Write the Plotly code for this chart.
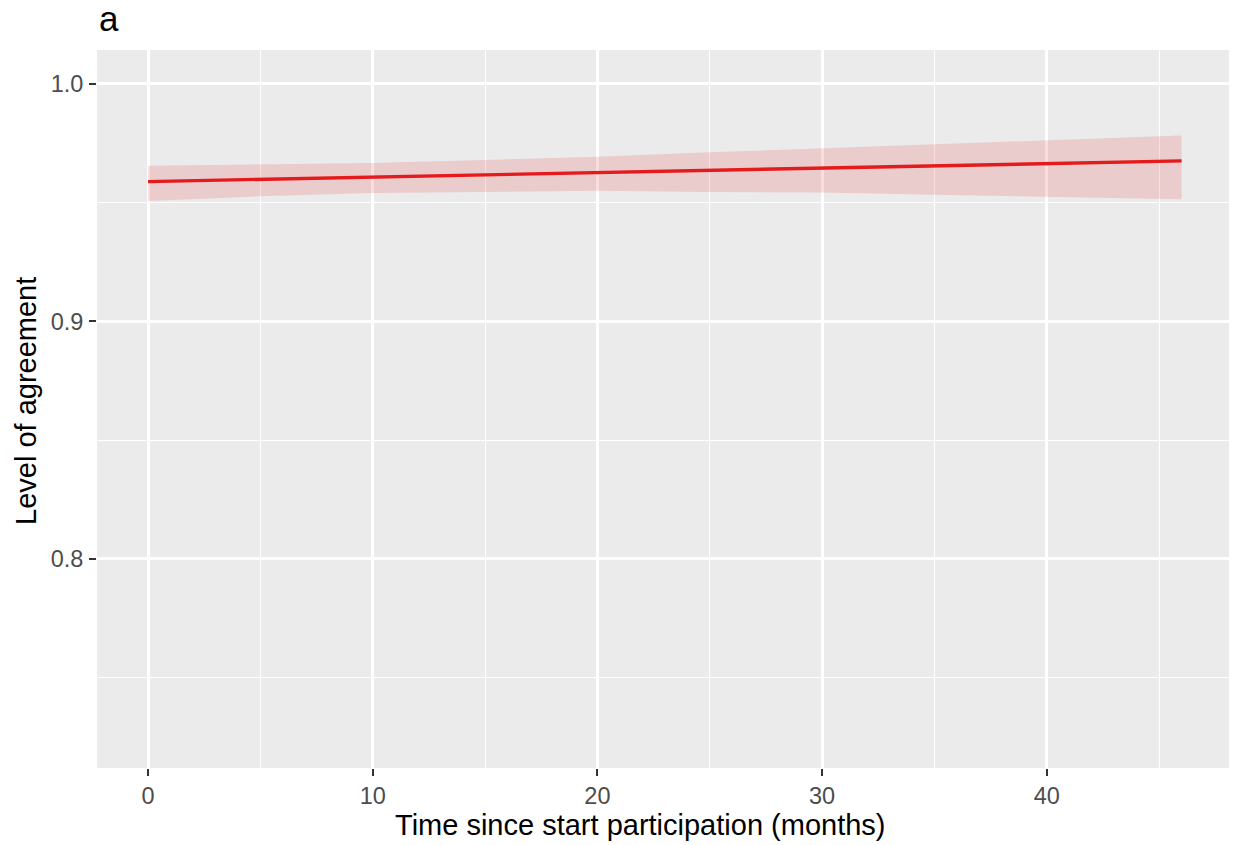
import plotly.graph_objects as go

# Fitted level of agreement over time, with its confidence band
band_months = [0, 5, 10, 15, 20, 25, 30, 35, 40, 45, 46]
band_upper = [0.9656, 0.9660, 0.9667, 0.9680, 0.9694, 0.9712, 0.9729, 0.9747, 0.9764, 0.9781, 0.9783]
band_lower = [0.9507, 0.9527, 0.9541, 0.9547, 0.9550, 0.9545, 0.9543, 0.9534, 0.9526, 0.9516, 0.9515]

fit_months = [0, 10, 20, 30, 40, 46]
fit_agreement = [0.9589, 0.9608, 0.9628, 0.9647, 0.9665, 0.9676]

x_ticks = [0, 10, 20, 30, 40]
y_ticks = [0.8, 0.9, 1.0]
y_tick_labels = ["0.8", "0.9", "1.0"]

W, H = 1238, 845
L, R, T, B = 97, 9, 50, 77
PW, PH = W - L - R, H - T - B


def px_x(px):
    return (px - L) / PW


def px_y(py):
    return (H - B - py) / PH


FONT = "Liberation Sans, Arial, sans-serif"
RED = "#E41A1C"

fig = go.Figure()

fig.add_trace(go.Scatter(
    x=band_months, y=band_lower, mode="lines",
    line=dict(width=0, color="rgba(0,0,0,0)"),
    hoverinfo="skip", showlegend=False,
))
fig.add_trace(go.Scatter(
    x=band_months, y=band_upper, mode="lines", fill="tonexty",
    fillcolor="rgba(228,26,28,0.15)",
    line=dict(width=0, color="rgba(0,0,0,0)"),
    hoverinfo="skip", showlegend=False,
))
fig.add_trace(go.Scatter(
    x=fit_months, y=fit_agreement, mode="lines",
    line=dict(color=RED, width=3.4),
    showlegend=False,
))

axis_common = dict(
    showline=False, zeroline=False,
    showgrid=True, gridcolor="white", gridwidth=2.6,
    ticks="outside", ticklen=7, tickwidth=2, tickcolor="#333333",
    tickfont=dict(family=FONT, size=23.5, color="#4D4D4D"),
    minor=dict(showgrid=True, gridcolor="white", gridwidth=1.4, ticks=""),
)

fig.update_xaxes(
    range=[-2.27, 48.11], tickvals=x_ticks,
    minor_tickvals=[5, 15, 25, 35, 45],
    ticklabelstandoff=0,
    **axis_common,
)
fig.update_yaxes(
    range=[0.712, 1.0143], tickvals=y_ticks, ticktext=y_tick_labels,
    minor_tickvals=[0.75, 0.85, 0.95],
    ticklabelstandoff=1,
    **axis_common,
)

fig.update_layout(
    width=W, height=H,
    margin=dict(l=L, r=R, t=T, b=B, pad=0),
    paper_bgcolor="white", plot_bgcolor="#EBEBEB",
    showlegend=False,
    annotations=[
        dict(text="a", x=px_x(97), y=px_y(18), xref="paper", yref="paper",
             xanchor="left", yanchor="middle", showarrow=False,
             font=dict(family=FONT, size=35, color="black")),
        dict(text="Time since start participation (months)",
             x=px_x(640), y=px_y(825), xref="paper", yref="paper",
             xanchor="center", yanchor="middle", showarrow=False,
             font=dict(family=FONT, size=29, color="black")),
        dict(text="Level of agreement", textangle=-90,
             x=px_x(26), y=px_y(401), xref="paper", yref="paper",
             xanchor="center", yanchor="middle", showarrow=False,
             font=dict(family=FONT, size=29, color="black")),
    ],
)

fig.write_html("out.html")
